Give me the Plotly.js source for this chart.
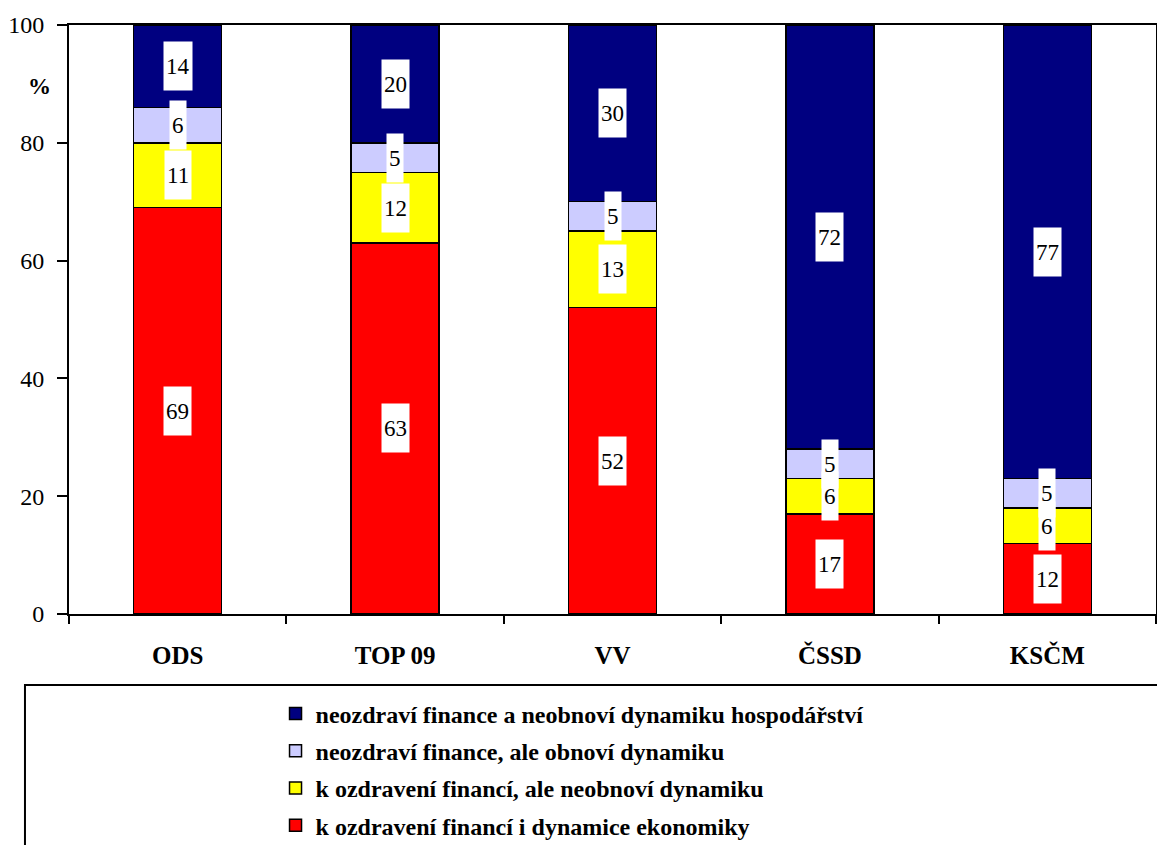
<!DOCTYPE html>
<html><head><meta charset="utf-8">
<script src="https://cdn.plot.ly/plotly-3.0.1.min.js"></script>
<style>html,body{margin:0;padding:0;background:#fff}#chart{width:1157px;height:845px}</style>
</head><body><div id="chart"></div>
<script>
const categories = ["ODS", "TOP 09", "VV", "ČSSD", "KSČM"];
const seriesNames = [
  "k ozdravení financí i dynamice ekonomiky",
  "k ozdravení financí, ale neobnoví dynamiku",
  "neozdraví finance, ale obnoví dynamiku",
  "neozdraví finance a neobnoví dynamiku hospodářství"
];
const redVals = [69, 63, 52, 17, 12];
const yellowVals = [11, 12, 13, 6, 6];
const lavenderVals = [6, 5, 5, 5, 5];
const blueVals = [14, 20, 30, 72, 77];
const yTicks = [0, 20, 40, 60, 80, 100];
const colors = ["#FF0000", "#FFFF00", "#CCCCFF", "#000080"];

const series = [redVals, yellowVals, lavenderVals, blueVals];
const font = "'Liberation Serif', 'Times New Roman', Times, serif";

const traces = series.map((vals, i) => ({
  type: "bar", x: categories, y: vals, name: seriesNames[i],
  legendgroup: "g" + i, legendrank: 10 - i,
  marker: {color: colors[i], line: {color: "#000", width: 1.5}},
  width: 0.405, hoverinfo: "skip"
}));

const annotations = [];
categories.forEach((c, ci) => {
  let base = 0;
  series.forEach((vals) => {
    const v = vals[ci];
    annotations.push({
      x: c, y: base + v / 2, xref: "x", yref: "y", text: String(v),
      showarrow: false, bgcolor: "#fff", height: 44, borderpad: 2,
      font: {family: font, size: 23, color: "#000"}
    });
    base += v;
  });
});
annotations.push({
  xref: "paper", yref: "paper", x: -0.0267, y: 0.8964, text: "<b>%</b>",
  showarrow: false, xanchor: "center", yanchor: "middle",
  font: {family: font, size: 23, color: "#000"}
});

const layout = {
  width: 1157, height: 845,
  font: {family: font, color: "#000"},
  margin: {l: 69, r: 1, t: 25, b: 231, autoexpand: false},
  paper_bgcolor: "#fff", plot_bgcolor: "#fff",
  barmode: "stack", bargap: 0.595,
  showlegend: true,
  legend: {
    x: 0.19, xanchor: "left", y: -0.1316, yanchor: "top",
    traceorder: "grouped", tracegroupgap: 3,
    font: {family: font, size: 24, color: "#000", weight: "bold"},
    bgcolor: "rgba(0,0,0,0)", borderwidth: 0
  },
  xaxis: {
    type: "category", tickson: "boundaries", ticks: "outside", ticklen: 8, tickwidth: 2,
    tickcolor: "#000", showline: true, linecolor: "#000", linewidth: 2, mirror: true,
    showgrid: false, ticklabelstandoff: 18,
    tickfont: {family: font, size: 25, color: "#000", weight: "bold"}
  },
  yaxis: {
    range: [0, 100], tickvals: yTicks, ticks: "outside", ticklen: 10, tickwidth: 2,
    tickcolor: "#000", showline: true, linecolor: "#000", linewidth: 2, mirror: true,
    showgrid: false, zeroline: false, ticklabelstandoff: 8,
    tickfont: {family: font, size: 24, color: "#000"}
  },
  annotations: annotations,
  shapes: [{
    type: "rect", xref: "paper", yref: "paper",
    x0: -0.0405, x1: 1.05, y0: -0.1205, y1: -0.5,
    line: {color: "#000", width: 2}, fillcolor: "rgba(0,0,0,0)"
  }]
};

Plotly.newPlot("chart", traces, layout, {staticPlot: true, displayModeBar: false});
</script>
</body></html>
